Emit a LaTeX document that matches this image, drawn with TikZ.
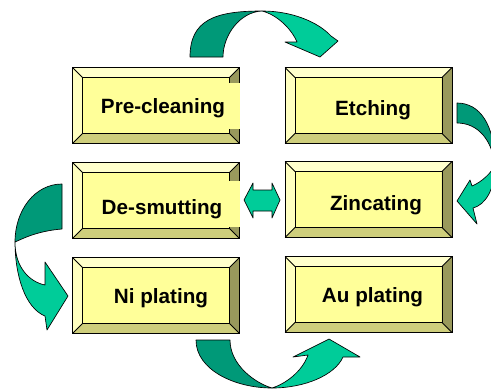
\documentclass[tikz,border=0pt]{standalone}
\usepackage{xcolor}
\usepackage{fontspec}
\setmainfont{Liberation Sans}
\usepackage{tikz}
\usetikzlibrary{calc}
\definecolor{boxface}{RGB}{255,255,153}
\definecolor{bevtop}{RGB}{255,255,204}
\definecolor{bevleft}{RGB}{255,255,192}
\definecolor{bevright}{RGB}{153,153,92}
\definecolor{bevbot}{RGB}{206,206,124}
\definecolor{ribdark}{RGB}{0,153,120}
\definecolor{riblight}{RGB}{0,204,153}
\tikzset{
  slab/.style  = {draw, fill=boxface, line width=0.6pt, inner sep=0pt,
                  minimum width=124.5pt, minimum height=56.25pt},
  lbl/.style   = {font=\fontsize{15.5}{18}\selectfont\bfseries, inner sep=0pt},
  edge/.style  = {draw, line width=0.6pt},
  ribd/.style  = {draw, fill=ribdark, line width=0.5pt, line join=round},
  ribl/.style  = {draw, fill=riblight, line width=0.5pt, line join=round},
}
\begin{document}
\begin{tikzpicture}[x=0.75pt, y=-0.75pt]
  \useasboundingbox (0,0) rectangle (491,389);

  % --- bevelled process boxes ---
  \foreach \n/\x/\y/\tx/\ty/\t in {
      pre/156/105.5/163/113/Pre-cleaning,
      etch/368.5/105.5/373/115/Etching,
      desmut/156/200.5/162/214/De-smutting,
      zinc/368.5/199.5/376/210/Zincating,
      ni/156/295.5/161/303/Ni plating,
      au/368.5/294.5/372.5/302/Au plating} {
    \node[slab] (\n) at (\x,\y) {};
    \fill[bevtop]   (\n.north west) -- (\n.north east) -- ++(-10,10) -- ++(-146,0) -- cycle;
    \fill[bevright] (\n.north east) -- (\n.south east) -- ++(-10,-10) -- ++(0,-55) -- cycle;
    \fill[bevbot]   (\n.south east) -- (\n.south west) -- ++(10,-10) -- ++(146,0) -- cycle;
    \fill[bevleft]  (\n.south west) -- (\n.north west) -- ++(10,10) -- ++(0,55) -- cycle;
    \draw[edge] (\n.north west) -- ++(10,10) (\n.north east) -- ++(-10,10)
                (\n.south east) -- ++(-10,-10) (\n.south west) -- ++(10,-10);
    \draw[edge] ($(\n.north west)+(10,10)$) rectangle ($(\n.south east)+(-10,-10)$);
    \draw[edge] (\n.north west) rectangle (\n.south east);
    \node[lbl, anchor=base] (\n-t) at (\tx,\ty) {\t};
  }
  % gaps in the right bevel
  \fill[boxface] (229,83) rectangle (239.6,129);
  \fill[boxface] (229,181) rectangle (239.6,227);

  % --- curved ribbon arrows ---
  \begin{scope}
    \clip (0,0) rectangle (491,389);
    % top
    \path[ribd] (190,57) .. controls (190,20) and (215,11) .. (262,11)
                .. controls (240,12) and (223,35) .. (223,57) -- cycle;
    \path[ribl] (262,11) .. controls (292,11) and (318,22) .. (331,36)
                -- (338,41) -- (320,57) -- (285,42) -- (297,42)
                .. controls (292,30) and (278,15) .. (262,11) -- cycle;
    % right
    \path[ribd] (457,103) .. controls (480,103) and (495,125) .. (495,165)
                .. controls (492,140) and (478,123) .. (457,123) -- cycle;
    \path[ribl] (495,165) .. controls (495,190) and (485,205) .. (473,208)
                -- (477,224) -- (457,201) -- (470,180) -- (472,186)
                .. controls (482,182) and (492,172) .. (495,165) -- cycle;
    % left
    \path[ribd] (62,184) .. controls (35,184) and (15,210) .. (15,242)
                .. controls (20,240) and (36,231) .. (62,229) -- cycle;
    \path[ribl] (15,242) .. controls (15,268) and (30,282) .. (45,285)
                -- (45,262) -- (68,296) -- (47,330) -- (45,316)
                .. controls (25,308) and (15,275) .. (15,242) -- cycle;
    % bottom
    \path[ribd] (196,340) .. controls (196,370) and (235,388) .. (272,388)
                .. controls (255,383) and (230,365) .. (230,340) -- cycle;
    \path[ribl] (272,388) .. controls (305,388) and (335,375) .. (343,357)
                -- (360,357) -- (329,339) -- (293,357) -- (308,355)
                .. controls (302,372) and (285,384) .. (272,388) -- cycle;
  \end{scope}

  % --- double arrow between the middle boxes ---
  \path[ribl] (244,200) -- (253,183) -- (253,190) -- (272,190) -- (272,183)
              -- (280,200) -- (272,218) -- (272,211) -- (253,211) -- (253,218) -- cycle;
\end{tikzpicture}
\end{document}
